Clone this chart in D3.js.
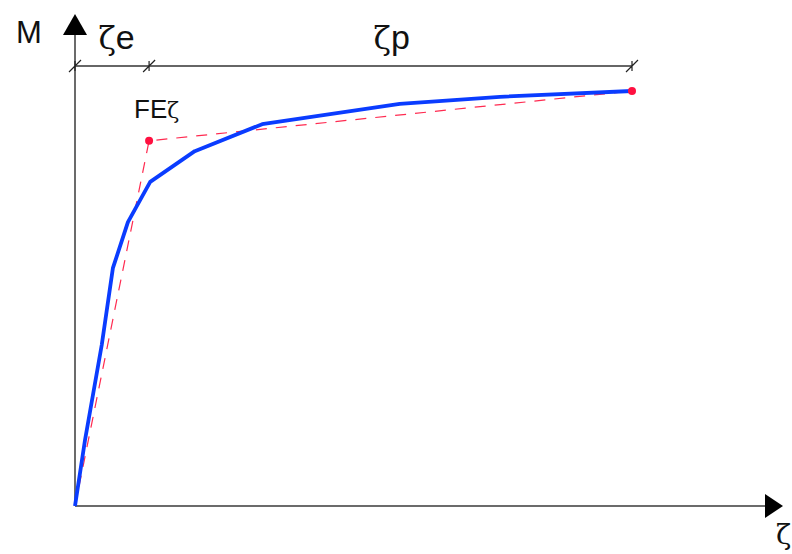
<!DOCTYPE html>
<html lang="en">
<head>
<meta charset="utf-8" />
<title>Moment - curvature</title>
<script src="https://d3js.org/d3.v7.min.js"></script>
<style>
  body { margin: 0; background: #fff; }
  svg text { font-family: "Liberation Sans", Arial, sans-serif; fill: #111; }
</style>
</head>
<body>
<script>
// normalised curvature (zeta / zeta_u) and moment (M / M_u)
var curveZeta = [0, 0.018, 0.048, 0.068, 0.095, 0.135, 0.215, 0.336, 0.583, 0.763, 1];
var curveM    = [0, 0.159, 0.388, 0.573, 0.684, 0.781, 0.855, 0.920, 0.969, 0.986, 1];

// bilinear idealisation: origin, yield (FE zeta), ultimate
var biZeta = [0, 0.133, 1];
var biM    = [0, 0.88, 1];

// dimension marks over the plot
var dimTicks = [0, 0.133, 1];
var dimLabels = [
  {main: "\u03b6", sub: "e", at: 0.042},
  {main: "\u03b6", sub: "p", at: 0.536}
];

var w = 792, h = 554;
var x = d3.scaleLinear().domain([0, 1]).range([75, 632]);
var y = d3.scaleLinear().domain([0, 1]).range([506, 91]);

var svg = d3.select("body").append("svg")
  .attr("width", w)
  .attr("height", h);

// axes with arrow heads
svg.append("line")
  .attr("x1", x(0)).attr("y1", y(0))
  .attr("x2", x(0)).attr("y2", 34)
  .style("stroke", "#6b6b6b").style("stroke-width", 2);
svg.append("line")
  .attr("x1", x(0)).attr("y1", y(0))
  .attr("x2", 766).attr("y2", y(0))
  .style("stroke", "#6b6b6b").style("stroke-width", 2);
svg.append("path")
  .attr("d", "M" + x(0) + ",14 L" + (x(0) - 12) + ",35 L" + (x(0) + 12) + ",35 Z")
  .style("fill", "#000");
svg.append("path")
  .attr("d", "M783," + y(0) + " L765," + (y(0) - 12) + " L765," + (y(0) + 12) + " Z")
  .style("fill", "#000");

svg.append("text").attr("x", 16).attr("y", 43)
  .style("font-size", "31px").text("M");
svg.append("text").attr("x", 776).attr("y", 544)
  .style("font-size", "28px").style("font-family", "DejaVu Serif")
  .text("\u03b6");

// dimension line
var dimY = 66;
svg.append("line")
  .attr("x1", x(0)).attr("y1", dimY)
  .attr("x2", x(1)).attr("y2", dimY)
  .style("stroke", "#333").style("stroke-width", 1.5);
svg.selectAll(".tk")
  .data(dimTicks)
  .enter()
  .append("path")
  .attr("class", "tk")
  .attr("d", function(d){
    var px = x(d);
    return "M" + (px - 6) + "," + (dimY + 6) + " L" + (px + 6) + "," + (dimY - 6) +
           " M" + px + "," + (dimY - 5) + " L" + px + "," + (dimY + 5);
  })
  .style("stroke", "#222").style("stroke-width", 1.2).style("fill", "none");

var lab = svg.selectAll(".dl")
  .data(dimLabels)
  .enter()
  .append("text")
  .attr("class", "dl")
  .attr("x", function(d){ return x(d.at); })
  .attr("y", 49)
  .style("font-size", "34px");
lab.append("tspan")
  .style("font-family", "DejaVu Serif")
  .style("font-size", "32px")
  .text(function(d){ return d.main; });
lab.append("tspan")
  .text(function(d){ return d.sub; });

// bilinear dashed line
var line = d3.line()
  .x(function(d){ return x(d[0]); })
  .y(function(d){ return y(d[1]); });

var biPts = biZeta.map(function(z, i){ return [z, biM[i]]; });
svg.append("path")
  .attr("d", line(biPts))
  .style("fill", "none")
  .style("stroke", "#ff2a50")
  .style("stroke-width", 1.2)
  .style("stroke-dasharray", "11,9");

// actual curve
var curvePts = curveZeta.map(function(z, i){ return [z, curveM[i]]; });
svg.append("path")
  .attr("d", line(curvePts))
  .style("fill", "none")
  .style("stroke", "#0a3cff")
  .style("stroke-width", 3.8)
  .style("stroke-linejoin", "round");

svg.selectAll("circle")
  .data(biPts.slice(1))
  .enter()
  .append("circle")
  .attr("cx", function(d){ return x(d[0]); })
  .attr("cy", function(d){ return y(d[1]); })
  .attr("r", 4)
  .style("fill", "#ff1040");

var fe = svg.append("text")
  .attr("x", x(biZeta[1]) - 15)
  .attr("y", 118)
  .style("font-size", "26px");
fe.append("tspan").text("FE");
fe.append("tspan").style("font-family", "DejaVu Serif").style("font-size", "22px").text("\u03b6");
</script>
</body>
</html>
